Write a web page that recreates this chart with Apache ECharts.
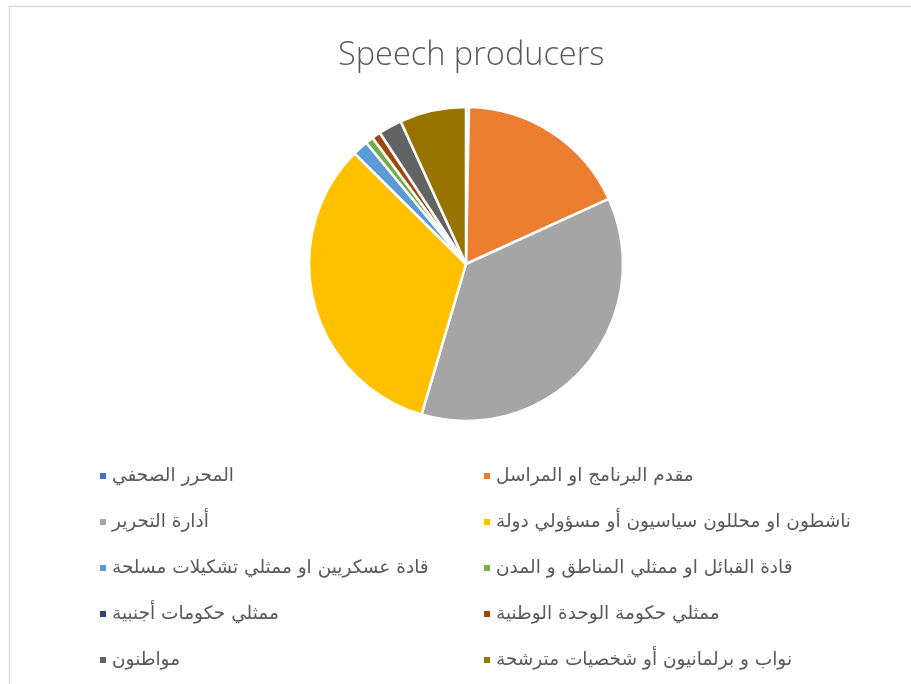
<!DOCTYPE html>
<html><head><meta charset="utf-8">
<script src="https://cdn.jsdelivr.net/npm/echarts@6/dist/echarts.min.js"></script>
<style>html,body{margin:0;padding:0;background:#fff}#c{width:911px;height:684px}</style>
</head><body><div id="c"></div>
<script>
const categories = [
  'المحرر الصحفي',
  'مقدم البرنامج او المراسل',
  'أدارة التحرير',
  'ناشطون او محللون سياسيون أو مسؤولي دولة ',
  'قادة عسكريين او ممثلي تشكيلات مسلحة',
  'قادة القبائل او ممثلي المناطق و المدن',
  'ممثلي حكومات أجنبية',
  'ممثلي حكومة الوحدة الوطنية',
  'مواطنون',
  'نواب و برلمانيون أو شخصيات مترشحة '
];
const values = [0.3, 17.8, 36.2, 32.7, 1.6, 0.8, 0, 0.9, 2.4, 6.8];
const colors = ['#4472C4','#ED7D31','#A5A5A5','#FFC000','#5B9BD5','#70AD47','#264478','#9E480E','#636363','#997300'];
const leftCol = [0,2,4,6,8].map(i=>categories[i]);
const rightCol = [1,3,5,7,9].map(i=>categories[i]);

const chart = echarts.init(document.getElementById('c'), null, {renderer:'canvas'});
const legendBase = {
  orient:'vertical', top:460, itemWidth:8, itemHeight:8, itemGap:24, icon:'rect',
  textStyle:{fontFamily:'DejaVu Sans', fontSize:18.5, color:'#595959', lineHeight:22},
  selectedMode:false
};
chart.setOption({
  animation:false,
  color: colors,
  title:{text:'Speech producers', left:333, top:34,
    textStyle:{fontFamily:'Open Sans', fontWeight:300, fontSize:32.5, color:'#595959'}},
  graphic:[{type:'rect', shape:{x:9.5,y:6.5,width:1000,height:1000}, style:{fill:'none', stroke:'#d9d9d9', lineWidth:1.5}}],
  legend:[
    Object.assign({}, legendBase, {left:93, data:leftCol}),
    Object.assign({}, legendBase, {left:477, data:rightCol})
  ],
  series:[{
    type:'pie', center:[466,264], radius:157, startAngle:90, clockwise:true,
    label:{show:false}, labelLine:{show:false},
    itemStyle:{borderColor:'#fff', borderWidth:2.5},
    data: categories.map((n,i)=>({name:n, value:values[i]}))
  }]
});
</script></body></html>
